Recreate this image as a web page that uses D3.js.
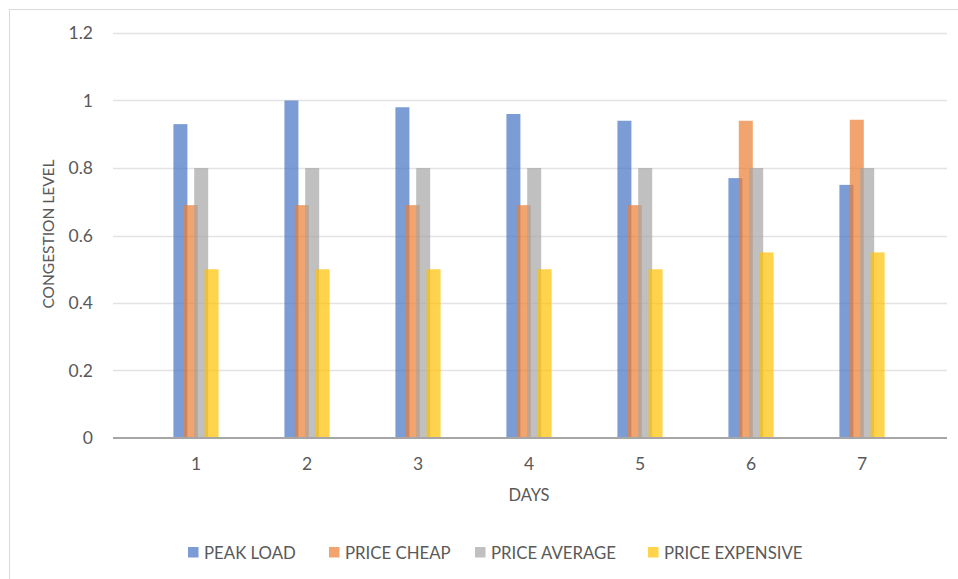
<!DOCTYPE html>
<html>
<head>
<meta charset="utf-8">
<script src="https://cdn.jsdelivr.net/npm/d3@7"></script>
<style>
  html, body { margin: 0; padding: 0; background: #ffffff; }
  svg { display: block; }
  text { font-family: Lato, "Open Sans", sans-serif; fill: #595959; }
</style>
</head>
<body>
<svg id="chart" width="958" height="579"></svg>
<script>
// Congestion level per day for each pricing strategy
const days = ["1", "2", "3", "4", "5", "6", "7"];
const seriesNames = ["PEAK LOAD", "PRICE CHEAP", "PRICE AVERAGE", "PRICE EXPENSIVE"];
const peakLoad       = [0.93, 1.00, 0.98, 0.96, 0.94, 0.77, 0.75];
const priceCheap     = [0.69, 0.69, 0.69, 0.69, 0.69, 0.94, 0.943];
const priceAverage   = [0.80, 0.80, 0.80, 0.80, 0.80, 0.80, 0.80];
const priceExpensive = [0.50, 0.50, 0.50, 0.50, 0.50, 0.55, 0.55];
const yTicks = [0, 0.2, 0.4, 0.6, 0.8, 1, 1.2];
const colors = ["#4472C4", "#ED7D31", "#A5A5A5", "#FFC000"];

const seriesValues = [peakLoad, priceCheap, priceAverage, priceExpensive];

const svg = d3.select("#chart");

// outer chart frame
svg.append("rect")
  .attr("x", 9.5).attr("y", 9.5)
  .attr("width", 1000).attr("height", 1000)
  .attr("fill", "none").attr("stroke", "#d9d9d9").attr("stroke-width", 1);

const plotLeft = 113, plotRight = 947;
const y = d3.scaleLinear().domain([0, 1.2]).range([438, 33]);
const x0 = d3.scaleBand().domain(days).range([140.5, 917.5]);
const barW = x0.bandwidth() * 0.126;
const step = barW * 0.743;
const x1 = d3.scalePoint().domain(seriesNames)
  .range([-1.5 * step, 1.5 * step]);

// horizontal gridlines
svg.append("g")
  .selectAll("line")
  .data(yTicks.filter(t => t > 0))
  .join("line")
  .attr("x1", plotLeft).attr("x2", plotRight)
  .attr("y1", d => Math.round(y(d)) + 0.5).attr("y2", d => Math.round(y(d)) + 0.5)
  .attr("stroke", "#e3e3e3").attr("stroke-width", 1.3);

// y tick labels
svg.append("g")
  .selectAll("text")
  .data(yTicks)
  .join("text")
  .attr("x", 93)
  .attr("y", d => y(d) + 6)
  .attr("text-anchor", "end")
  .style("font-size", "17.5px")
  .text(d => d3.format("")(d));

// bars
const barGroups = svg.append("g")
  .selectAll("g")
  .data(seriesNames.map((name, i) => ({ name, i, values: seriesValues[i] })))
  .join("g")
  .attr("fill", d => colors[d.i])
  .attr("fill-opacity", 0.7);

barGroups.selectAll("rect")
  .data(d => d.values.map((v, j) => ({ name: d.name, day: days[j], v })))
  .join("rect")
  .attr("x", d => x0(d.day) + x0.bandwidth() / 2 + x1(d.name) - barW / 2)
  .attr("y", d => y(d.v))
  .attr("width", barW)
  .attr("height", d => y(0) - y(d.v));

// category axis line
svg.append("line")
  .attr("x1", plotLeft).attr("x2", plotRight)
  .attr("y1", y(0)).attr("y2", y(0))
  .attr("stroke", "#a6a6a6").attr("stroke-width", 2);

// x tick labels
svg.append("g")
  .selectAll("text")
  .data(days)
  .join("text")
  .attr("x", d => x0(d) + x0.bandwidth() / 2)
  .attr("y", 470)
  .attr("text-anchor", "middle")
  .style("font-size", "17.5px")
  .text(d => d);

// axis titles
svg.append("text")
  .attr("x", 529).attr("y", 501)
  .attr("text-anchor", "middle")
  .style("font-size", "16.5px")
  .text("DAYS");

svg.append("text")
  .attr("transform", "translate(54,234) rotate(-90)")
  .attr("text-anchor", "middle")
  .style("font-size", "15.5px")
  .text("CONGESTION LEVEL");

// legend
const legendX = [188, 329, 475, 648];
const legend = svg.append("g")
  .selectAll("g")
  .data(seriesNames)
  .join("g")
  .attr("transform", (d, i) => `translate(${legendX[i]},547)`);
legend.append("rect")
  .attr("width", 10.5).attr("height", 10.5)
  .attr("fill", (d, i) => colors[i]).attr("fill-opacity", 0.7);
legend.append("text")
  .attr("x", 16).attr("y", 11.5)
  .style("font-size", "16.8px")
  .text(d => d);
</script>
</body>
</html>
